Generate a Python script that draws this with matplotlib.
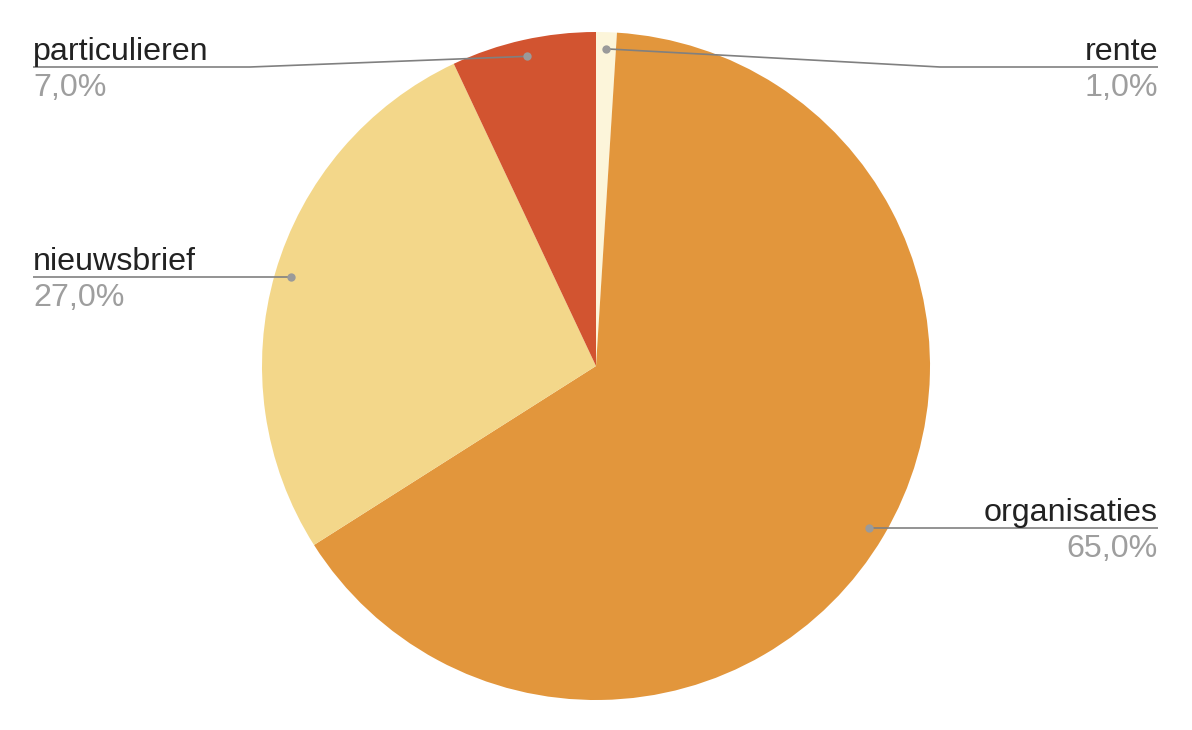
import numpy as np
import matplotlib
matplotlib.use("Agg")
import matplotlib.pyplot as plt

labels = ["rente", "organisaties", "nieuwsbrief", "particulieren"]
values = [1.0, 65.0, 27.0, 7.0]
colors = ["#FCF5DA", "#E2963C", "#F3D78A", "#D25430"]

W, H = 1192, 730
fig = plt.figure(figsize=(W / 100, H / 100), dpi=100)
ax = fig.add_axes([0, 0, 1, 1])

cx, cy, R = 596, H - 366, 334
wedges, _ = ax.pie(values, colors=colors, startangle=90, counterclock=False,
                   center=(cx, cy), radius=R, frame=True,
                   wedgeprops=dict(linewidth=0))
ax.set_xlim(0, W)
ax.set_ylim(0, H)
ax.axis("off")

font = "Liberation Sans"
fs = 23.2
line_col = "#808080"
dot_col = "#9a9a9a"
top_line_y = H - 67
left_x, right_x = 33, 1158
left_elbow, right_elbow = 250, 940

for w, lab, v in zip(wedges, labels, values):
    ang = np.deg2rad((w.theta1 + w.theta2) / 2)
    dx = cx + 0.95 * R * np.cos(ang)
    dy = cy + 0.95 * R * np.sin(ang)
    ly = min(dy, top_line_y)
    right = np.cos(ang) > 0
    if right:
        tx, ex, ha = right_x, right_elbow, "right"
    else:
        tx, ex, ha = left_x, left_elbow, "left"
    if abs(ly - dy) > 1:
        ax.plot([dx, ex, tx], [dy, ly, ly], color=line_col, lw=1.2,
                solid_capstyle="butt", zorder=3)
    else:
        ax.plot([dx, tx], [dy, ly], color=line_col, lw=1.2,
                solid_capstyle="butt", zorder=3)
    ax.plot([dx], [dy], "o", color=dot_col, ms=6, zorder=4, mec="none")
    ax.text(tx, ly + 7, lab, ha=ha, va="baseline", fontsize=fs,
            family=font, color="#222222")
    ax.text(tx, ly - 6, f"{v:.1f}%".replace(".", ","), ha=ha, va="top",
            fontsize=fs, family=font, color="#9e9e9e")

fig.savefig("out.png", dpi=100, facecolor="white")
